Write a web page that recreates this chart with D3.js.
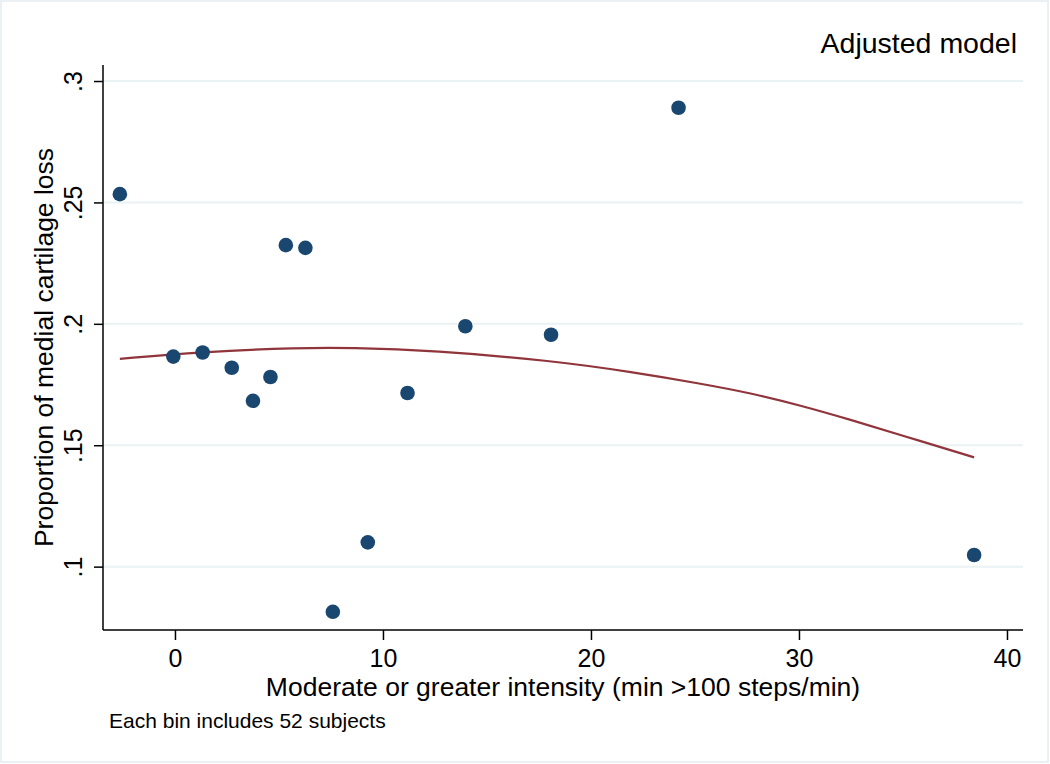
<!DOCTYPE html>
<html>

<head>
  <meta charset="utf-8">
  <title>Adjusted model</title>
  <style type="text/css">
    html, body {
      margin: 0;
      padding: 0;
      background: #fff;
    }

    svg {
      display: block;
      width: 1050px;
      height: 764px;
      font-family: "Liberation Sans", Arial, Helvetica, sans-serif;
    }
  </style>
  <script type="text/javascript" src="https://cdn.jsdelivr.net/npm/d3@7/dist/d3.min.js"></script>
</head>

<body>
  <script>
    // binned scatter: x = mean minutes per bin, y = proportion with loss
    var binX = [-2.65, -0.08, 1.33, 2.73, 3.75, 4.59, 5.33, 6.27, 7.59, 9.27, 11.18, 13.96, 18.08, 24.21, 38.42];
    var binY = [0.2534, 0.1865, 0.1882, 0.1819, 0.1683, 0.1781, 0.2324, 0.2313, 0.0814, 0.110, 0.1715, 0.199, 0.1955, 0.289, 0.1048];

    // fitted curve
    var fitX = [-2.65, 1.20, 6.02, 8.42, 12.42, 18.05, 22.04, 25.26, 27.67, 30.07, 32.48, 34.89, 38.42];
    var fitY = [0.1856, 0.1884, 0.1902, 0.1902, 0.1890, 0.1849, 0.1801, 0.1754, 0.1715, 0.1664, 0.1605, 0.1542, 0.1450];

    var xTicks = [0, 10, 20, 30, 40];
    var yTicks = [0.1, 0.15, 0.2, 0.25, 0.3];

    var W = 1050, H = 764;
    var m = { left: 103, right: 1023, top: 65, bottom: 630 };

    var x = d3.scaleLinear().domain([-3.46, 40.77]).range([m.left, m.right]);
    var y = d3.scaleLinear().domain([0.0739, 0.3066]).range([m.bottom, m.top]);

    var svg = d3.select('body').append('svg')
      .attr('width', W)
      .attr('height', H);

    // outer frame
    svg.append('rect')
      .attr('x', 1).attr('y', 1)
      .attr('width', W - 3).attr('height', H - 3)
      .attr('fill', '#fff')
      .attr('stroke', '#eaf0f3')
      .attr('stroke-width', 2);

    // grid
    svg.append('g')
      .selectAll('line')
      .data(yTicks)
      .enter()
      .append('line')
      .attr('x1', m.left)
      .attr('x2', m.right)
      .attr('y1', d => y(d))
      .attr('y2', d => y(d))
      .attr('stroke', '#eaf2f3')
      .attr('stroke-width', 2);

    var fmt = d => d3.format('')(d).replace(/^0\./, '.');

    // y axis
    var yAxis = svg.append('g')
      .attr('transform', `translate(${m.left},0)`)
      .call(d3.axisLeft(y).tickValues(yTicks).tickFormat(fmt).tickSize(9).tickPadding(12));

    yAxis.selectAll('text')
      .attr('font-size', 25)
      .attr('fill', '#000')
      .attr('transform', 'rotate(-90, -21, 0)')
      .attr('x', -21)
      .attr('y', 0)
      .attr('dy', 0)
      .attr('text-anchor', 'middle');

    // x axis
    var xAxis = svg.append('g')
      .attr('transform', `translate(0,${m.bottom})`)
      .call(d3.axisBottom(x).tickValues(xTicks).tickSize(10).tickPadding(8));

    xAxis.selectAll('text')
      .attr('font-size', 25)
      .attr('fill', '#000')
      .attr('dy', 0)
      .attr('y', 36.5);

    svg.selectAll('.tick line')
      .attr('stroke', '#000')
      .attr('stroke-width', 1.5);

    // plain axis lines instead of d3's domain paths
    svg.selectAll('.domain').remove();
    svg.append('line')
      .attr('x1', m.left).attr('x2', m.left)
      .attr('y1', m.top).attr('y2', m.bottom)
      .attr('stroke', '#000').attr('stroke-width', 1.5);
    svg.append('line')
      .attr('x1', m.left).attr('x2', m.right)
      .attr('y1', m.bottom).attr('y2', m.bottom)
      .attr('stroke', '#000').attr('stroke-width', 1.5);

    // fitted line
    var line = d3.line()
      .x(d => x(d[0]))
      .y(d => y(d[1]))
      .curve(d3.curveBasis);

    svg.append('path')
      .datum(fitX.map((v, i) => [v, fitY[i]]))
      .attr('d', line)
      .attr('fill', 'none')
      .attr('stroke', '#90353b')
      .attr('stroke-width', 2.2);

    // bins
    svg.append('g')
      .selectAll('circle')
      .data(binX.map((v, i) => [v, binY[i]]))
      .enter()
      .append('circle')
      .attr('cx', d => x(d[0]))
      .attr('cy', d => y(d[1]))
      .attr('r', 7.3)
      .attr('fill', '#1a476f');

    // titles
    svg.append('text')
      .attr('x', (m.left + m.right) / 2)
      .attr('y', 696)
      .attr('text-anchor', 'middle')
      .attr('font-size', 26.5)
      .text('Moderate or greater intensity (min >100 steps/min)');

    svg.append('text')
      .attr('transform', `translate(53,${(m.top + m.bottom) / 2}) rotate(-90)`)
      .attr('text-anchor', 'middle')
      .attr('font-size', 26.5)
      .text('Proportion of medial cartilage loss');

    svg.append('text')
      .attr('x', 1017)
      .attr('y', 53)
      .attr('text-anchor', 'end')
      .attr('font-size', 28.5)
      .text('Adjusted model');

    svg.append('text')
      .attr('x', 109)
      .attr('y', 728)
      .attr('font-size', 21)
      .text('Each bin includes 52 subjects');
  </script>
</body>

</html>
